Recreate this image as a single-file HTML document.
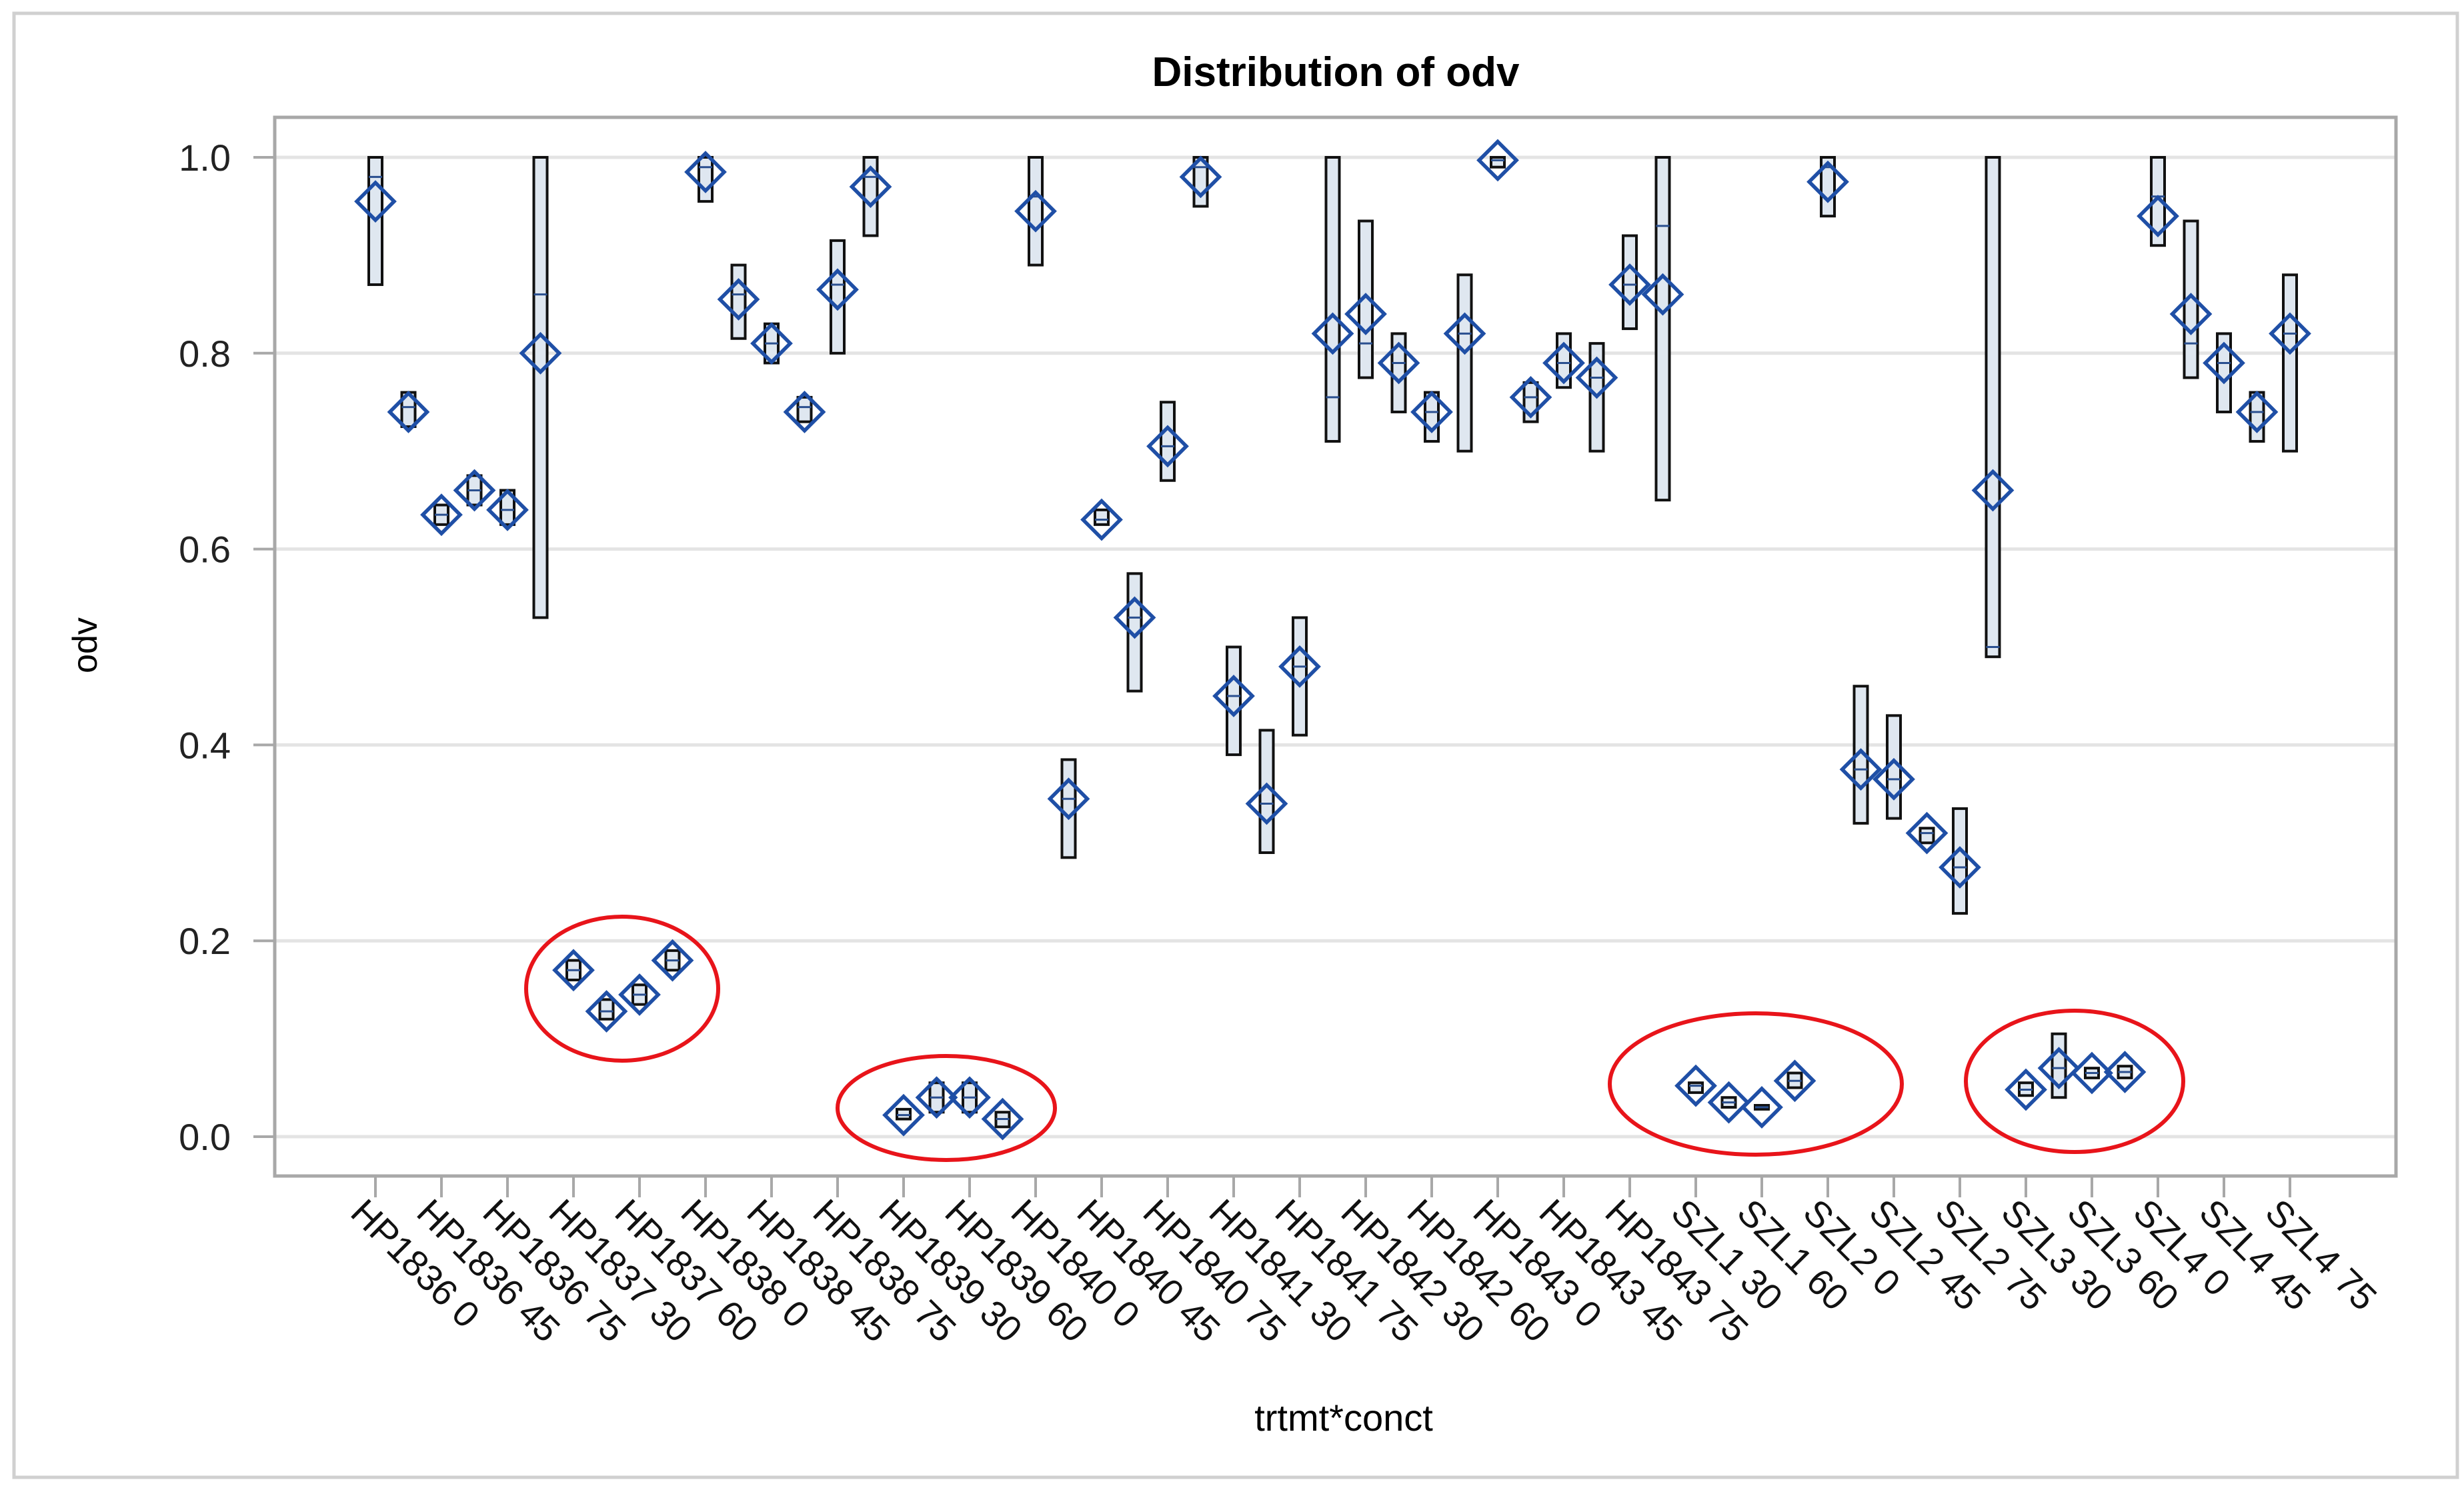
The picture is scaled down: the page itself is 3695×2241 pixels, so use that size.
<!DOCTYPE html>
<html><head><meta charset="utf-8"><style>
html,body{margin:0;padding:0;background:#fff;}
svg{display:block;font-family:"Liberation Sans",Arial,sans-serif;}
</style></head><body>
<svg id="chart" width="3695" height="2241" viewBox="0 0 3695 2241" xmlns="http://www.w3.org/2000/svg">
<rect x="21" y="20" width="3664" height="2196" fill="#fff" stroke="#d0d0d0" stroke-width="5"/>
<text x="2003" y="129" text-anchor="middle" font-size="62" font-weight="bold" fill="#000">Distribution of odv</text>
<g id="grid"></g>
<g id="marks"></g>
<rect x="412" y="176" width="3181" height="1588" fill="none" stroke="#a8a8a8" stroke-width="5"/>
<g id="yaxis"></g>
<g id="xaxis"></g>
<text transform="translate(145,968) rotate(-90)" text-anchor="middle" font-size="52" fill="#000">odv</text>
<text x="2015" y="2146" text-anchor="middle" font-size="56" fill="#000">trtmt*conct</text>
<g id="ellipses"></g>
</svg>
<script>
const categories = ["HP1836 0","HP1836 15","HP1836 30","HP1836 45","HP1836 60","HP1836 75","HP1837 0","HP1837 15","HP1837 30","HP1837 45","HP1837 60","HP1837 75","HP1838 0","HP1838 15","HP1838 30","HP1838 45","HP1838 60","HP1838 75","HP1839 0","HP1839 15","HP1839 30","HP1839 45","HP1839 60","HP1839 75","HP1840 0","HP1840 15","HP1840 30","HP1840 45","HP1840 60","HP1840 75","HP1841 0","HP1841 15","HP1841 30","HP1841 45","HP1841 60","HP1841 75","HP1842 0","HP1842 15","HP1842 30","HP1842 45","HP1842 60","HP1842 75","HP1843 0","HP1843 15","HP1843 30","HP1843 45","HP1843 60","HP1843 75","SZL1 0","SZL1 15","SZL1 30","SZL1 45","SZL1 60","SZL1 75","SZL2 0","SZL2 15","SZL2 30","SZL2 45","SZL2 60"];
const tickLabels = ["HP1836 0","HP1836 45","HP1836 75","HP1837 30","HP1837 60","HP1838 0","HP1838 45","HP1838 75","HP1839 30","HP1839 60","HP1840 0","HP1840 45","HP1840 75","HP1841 30","HP1841 75","HP1842 30","HP1842 60","HP1843 0","HP1843 45","HP1843 75","SZL1 30","SZL1 60","SZL2 0","SZL2 45","SZL2 75","SZL3 30","SZL3 60","SZL4 0","SZL4 45","SZL4 75"];
const means = [0.955,0.74,0.635,0.66,0.64,0.80,0.17,0.128,0.145,0.18,0.985,0.855,0.81,0.74,0.865,0.97,0.022,0.04,0.04,0.018,0.945,0.345,0.63,0.53,0.705,0.98,0.45,0.34,0.48,0.82,0.84,0.79,0.74,0.82,0.997,0.755,0.79,0.775,0.87,0.86,0.052,0.035,0.03,0.057,0.975,0.375,0.365,0.31,0.275,0.66,0.048,0.07,0.065,0.066,0.94,0.84,0.79,0.74,0.82];
const lows = [0.87,0.725,0.625,0.645,0.625,0.53,0.16,0.12,0.135,0.17,0.955,0.815,0.79,0.73,0.80,0.92,0.018,0.025,0.025,0.01,0.89,0.285,0.625,0.455,0.67,0.95,0.39,0.29,0.41,0.71,0.775,0.74,0.71,0.70,0.99,0.73,0.765,0.70,0.825,0.65,0.045,0.03,0.028,0.05,0.94,0.32,0.325,0.30,0.228,0.49,0.042,0.04,0.06,0.06,0.91,0.775,0.74,0.71,0.70];
const highs = [1.0,0.76,0.645,0.675,0.66,1.0,0.18,0.14,0.155,0.19,1.0,0.89,0.83,0.755,0.915,1.0,0.028,0.055,0.055,0.025,1.0,0.385,0.64,0.575,0.75,1.0,0.50,0.415,0.53,1.0,0.935,0.82,0.76,0.88,1.0,0.77,0.82,0.81,0.92,1.0,0.055,0.04,0.032,0.065,1.0,0.46,0.43,0.315,0.335,1.0,0.055,0.105,0.07,0.072,1.0,0.935,0.82,0.76,0.88];
const medians = [0.98,0.745,0.635,0.66,0.64,0.86,0.17,0.128,0.145,0.18,0.99,0.86,0.81,0.745,0.87,0.98,0.022,0.04,0.04,0.018,0.96,0.345,0.63,0.53,0.705,0.99,0.45,0.34,0.48,0.755,0.81,0.79,0.74,0.82,0.997,0.755,0.79,0.775,0.87,0.93,0.052,0.035,0.03,0.057,0.99,0.375,0.365,0.31,0.275,0.50,0.048,0.07,0.065,0.066,0.96,0.81,0.79,0.74,0.82];
const yTicks = [0,0.2,0.4,0.6,0.8,1.0];
const yTickLabels = ["0.0","0.2","0.4","0.6","0.8","1.0"];

const NS="http://www.w3.org/2000/svg";
const X0=563, DX=49.5;
function xPos(i){return X0+i*DX;}
function yPos(v){return 1705-v*1469;}
function mk(tag,attrs,parent){const e=document.createElementNS(NS,tag);for(const k in attrs)e.setAttribute(k,attrs[k]);parent.appendChild(e);return e;}
const grid=document.getElementById('grid'),marks=document.getElementById('marks'),yax=document.getElementById('yaxis'),xax=document.getElementById('xaxis'),ell=document.getElementById('ellipses');

yTicks.forEach((v,k)=>{
  const g=mk('line',{x1:414,x2:3591,y1:yPos(v),y2:yPos(v),stroke:'#e4e4e4','stroke-width':5},grid);
  
  
  const t=mk('line',{x1:380,x2:412,y1:yPos(v),y2:yPos(v),stroke:'#a8a8a8','stroke-width':4},yax);
  
  
  const l=mk('text',{x:346,y:yPos(v)+20,'text-anchor':'end','font-size':56,fill:'#222'},yax);
  l.textContent=yTickLabels[k];
  
  
});

tickLabels.forEach((lab,k)=>{
  const x=xPos(k*2);
  const t=mk('line',{x1:x,x2:x,y1:1764,y2:1796,stroke:'#a8a8a8','stroke-width':4},xax);
  
  
  const l=mk('text',{transform:`translate(${x-40},${1822}) rotate(45)`,'font-size':55,fill:'#111'},xax);
  l.textContent=lab;
  
  
});

means.forEach((m,i)=>{
  const x=xPos(i), yl=yPos(lows[i]), yh=yPos(highs[i]);
  const b=mk('rect',{x:x-10,y:yh,width:20,height:Math.max(yl-yh,4),fill:'#dfe7f0',stroke:'#111','stroke-width':4},marks);
  
  
  const md=mk('line',{x1:x-10,x2:x+10,y1:yPos(medians[i]),y2:yPos(medians[i]),stroke:'#2a4f8f','stroke-width':3},marks);
  
  
  const y=yPos(m), r=28;
  const d=mk('polygon',{points:`${x},${y-r} ${x+r},${y} ${x},${y+r} ${x-r},${y}`,fill:'none',stroke:'#1f4fa6','stroke-width':5.5},marks);
  
  
});

[[933,1483,144,108],[1419,1662,163,78],[2633,1626,219,106],[3111,1622,163,106]].forEach(e=>{
  const c=mk('ellipse',{cx:e[0],cy:e[1],rx:e[2],ry:e[3],fill:'none',stroke:'#e8141a','stroke-width':6},ell);
  
  
});
</script>
</body></html>
